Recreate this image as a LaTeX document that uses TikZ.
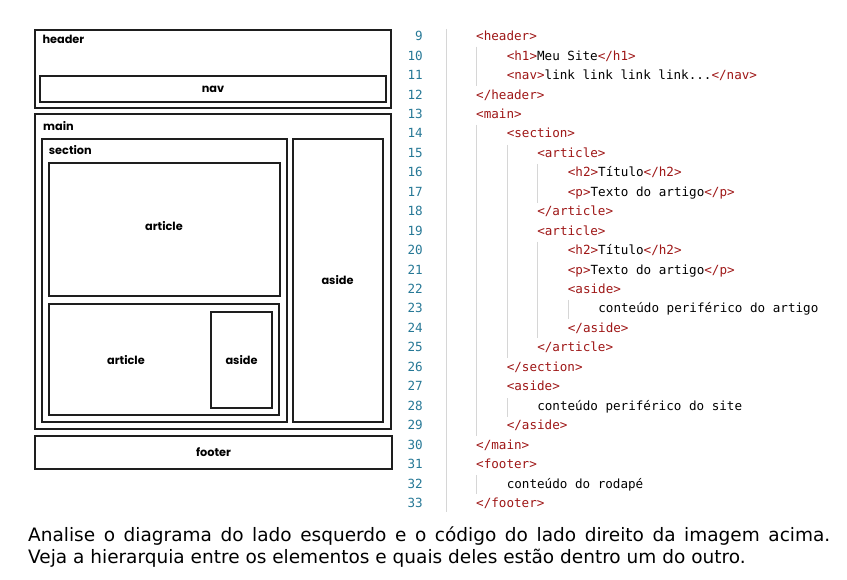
\documentclass[tikz,border=0pt]{standalone}
\usepackage{fontspec}
\setmainfont{DejaVu Sans}
\newfontfamily\boxfont{Poppins}
\newfontfamily\codefont{DejaVu Sans Mono}
\newfontfamily\notefont{DejaVu Sans}
\definecolor{tagred}{RGB}{158,22,22}
\definecolor{numblue}{RGB}{38,120,150}
\definecolor{guide}{RGB}{214,214,214}
\definecolor{boxline}{RGB}{30,30,30}
\newcommand\tg[1]{\textcolor{tagred}{#1}}
\tikzset{
  box/.style={draw=boxline, line width=2pt, rectangle, inner sep=0pt, font=\boxfont\bfseries\fontsize{11.3}{13}\selectfont},
  boxlabel/.style={inner sep=0pt, anchor=base west, font=\boxfont\bfseries\fontsize{11.3}{13}\selectfont},
  midlabel/.style={inner sep=0pt, font=\boxfont\bfseries\fontsize{11.3}{13}\selectfont},
  code/.style={inner sep=0pt, anchor=base west, font=\codefont\fontsize{12.6}{15}\selectfont},
  lnum/.style={inner sep=0pt, anchor=base east, text=numblue, font=\codefont\fontsize{12.6}{15}\selectfont},
  guideline/.style={draw=guide, line width=0.9pt},
  note/.style={inner sep=0pt, anchor=base west, font=\notefont\fontsize{18.5}{22}\selectfont}
}
\newcommand\codeline[3]{%
  \node[lnum] (n#1) at (423, {40.7+19.45*(#1-9)}) {#1};
  \node[code] (c#1) at ({476+30.55*#2}, {40.7+19.45*(#1-9)}) {#3};
}
\begin{document}
\begin{tikzpicture}[x=1pt,y=-1pt]
\useasboundingbox (0,0) rectangle (847,580);
% ---- layout diagram
\node[box, minimum width=356pt, minimum height=78pt] (header) at (213,69) {};
\node[boxlabel] (headerl) at (42.3,44) {header};
\node[box, minimum width=346pt, minimum height=26pt] (nav) at (213,89) {nav};
\node[box, minimum width=356pt, minimum height=315pt] (main) at (213,271.5) {};
\node[boxlabel] (mainl) at (43,131) {main};
\node[box, minimum width=245pt, minimum height=282.5pt] (section) at (164,280.25) {};
\node[boxlabel] (sectionl) at (48.7,155) {section};
\node[box, minimum width=90pt, minimum height=282.5pt] (aside1) at (337.5,280.25) {aside};
\node[box, minimum width=230.5pt, minimum height=132.5pt] (article1) at (164.25,229.75) {};
\node[midlabel] (article1l) at (164,226) {article};
\node[box, minimum width=230.6pt, minimum height=111.3pt] (article2) at (164,359.7) {};
\node[midlabel] (article2l) at (126,360) {article};
\node[box, minimum width=61.6pt, minimum height=96pt] (aside2) at (241.5,359.7) {aside};
\node[box, minimum width=356.4pt, minimum height=32.7pt] (footer) at (213.5,452.3) {footer};
% ---- indentation guides
\coordinate (g0a) at (446,29); \coordinate (g0b) at (446,512);
\draw[guideline] (g0a) -- (g0b);
\coordinate (g1a) at (476.7,46.7); \coordinate (g1b) at (476.7,86);
\draw[guideline] (g1a) -- (g1b);
\coordinate (g2a) at (476.7,125); \coordinate (g2b) at (476.7,436);
\draw[guideline] (g2a) -- (g2b);
\coordinate (g3a) at (476.7,475); \coordinate (g3b) at (476.7,494);
\draw[guideline] (g3a) -- (g3b);
\coordinate (g4a) at (507,145); \coordinate (g4b) at (507,358);
\draw[guideline] (g4a) -- (g4b);
\coordinate (g5a) at (507,398); \coordinate (g5b) at (507,416.7);
\draw[guideline] (g5a) -- (g5b);
\coordinate (g6a) at (537.3,164); \coordinate (g6b) at (537.3,202.7);
\draw[guideline] (g6a) -- (g6b);
\coordinate (g7a) at (537.3,241.7); \coordinate (g7b) at (537.3,338);
\draw[guideline] (g7a) -- (g7b);
\coordinate (g8a) at (568,300); \coordinate (g8b) at (568,319);
\draw[guideline] (g8a) -- (g8b);
% ---- code
\codeline{9}{0}{\tg{<header>}}
\codeline{10}{1}{\tg{<h1>}Meu Site\tg{</h1>}}
\codeline{11}{1}{\tg{<nav>}link link link link...\tg{</nav>}}
\codeline{12}{0}{\tg{</header>}}
\codeline{13}{0}{\tg{<main>}}
\codeline{14}{1}{\tg{<section>}}
\codeline{15}{2}{\tg{<article>}}
\codeline{16}{3}{\tg{<h2>}Título\tg{</h2>}}
\codeline{17}{3}{\tg{<p>}Texto do artigo\tg{</p>}}
\codeline{18}{2}{\tg{</article>}}
\codeline{19}{2}{\tg{<article>}}
\codeline{20}{3}{\tg{<h2>}Título\tg{</h2>}}
\codeline{21}{3}{\tg{<p>}Texto do artigo\tg{</p>}}
\codeline{22}{3}{\tg{<aside>}}
\codeline{23}{4}{conteúdo periférico do artigo}
\codeline{24}{3}{\tg{</aside>}}
\codeline{25}{2}{\tg{</article>}}
\codeline{26}{1}{\tg{</section>}}
\codeline{27}{1}{\tg{<aside>}}
\codeline{28}{2}{conteúdo periférico do site}
\codeline{29}{1}{\tg{</aside>}}
\codeline{30}{0}{\tg{</main>}}
\codeline{31}{0}{\tg{<footer>}}
\codeline{32}{1}{conteúdo do rodapé}
\codeline{33}{0}{\tg{</footer>}}
% ---- caption
\node[note] (note1) at (28,541.7) {\makebox[802pt][s]{Analise o diagrama do lado esquerdo e o código do lado direito da imagem acima.}};
\node[note] (note2) at (28,563) {Veja a hierarquia entre os elementos e quais deles estão dentro um do outro.};
\end{tikzpicture}
\end{document}
